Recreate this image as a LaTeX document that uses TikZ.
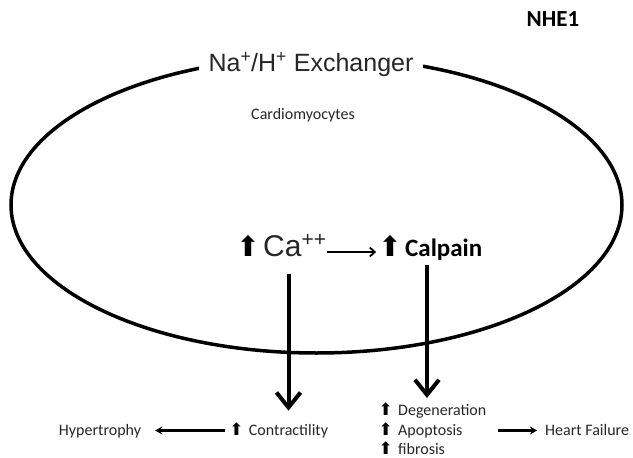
\documentclass[tikz,border=0pt]{standalone}
\usepackage{fontspec}
\setmainfont{Carlito}
\newfontfamily\arialf{Liberation Sans}
\newfontfamily\dejaf{DejaVu Sans}
\usetikzlibrary{arrows.meta,shapes.geometric}
\begin{document}
\begin{tikzpicture}[x=1pt,y=-1pt,
  lbl/.style={inner sep=0pt, text=black!85, font=\fontsize{16}{18}\selectfont},
  upsmall/.style={inner sep=0pt, font=\dejaf\fontsize{17}{19}\selectfont},
  upbig/.style={inner sep=0pt, font=\dejaf\fontsize{28}{30}\selectfont},
  thinarr/.style={line width=2.2pt, -{Stealth[length=7pt,width=8pt]}},
  bigarr/.style={line width=4pt, -{Straight Barb[length=15pt,width=24pt]}},
]
\useasboundingbox (0,0) rectangle (633,458);
\node[ellipse, draw, line width=3.5pt, minimum width=611pt, minimum height=296pt, inner sep=0pt] (cell) at (316.5,205) {};
\node[fill=white, inner xsep=10pt, inner ysep=2pt, text=black!85, font=\arialf\fontsize{25}{28}\selectfont] (nhe) at (311,65) {Na\textsuperscript{+}/H\textsuperscript{+} Exchanger};
\node[inner sep=0pt, font=\bfseries\fontsize{23}{26}\selectfont] (title) at (553,19) {NHE1};
\node[lbl] (cardio) at (303,115) {Cardiomyocytes};
% Ca and Calpain
\node[anchor=base west, inner sep=0pt, text=black!85, font=\arialf\fontsize{30}{32}\selectfont] (ca) at (263,256) {Ca\textsuperscript{++}};
\node[upbig, anchor=base east] (upca) at (260,256) {⬆};
\node[anchor=base west, inner sep=0pt, font=\bfseries\fontsize{25}{27}\selectfont] (calp) at (405,256) {Calpain};
\node[upbig, anchor=base east] (upcp) at (402,256) {⬆};
\draw[line width=1.8pt, -{Straight Barb[length=5pt,width=9pt]}, shorten >=2pt] ([yshift=4pt]ca.base east) -- ([yshift=4pt]upcp.base west);
% bottom row
\node[lbl, anchor=base] (contr) at (288.5,435) {Contractility};
\node[upsmall, anchor=base east] (upc) at ([xshift=-5pt]contr.base west) {⬆};
\node[lbl, anchor=base] (hyp) at (100,435) {Hypertrophy};
\draw[thinarr, shorten <=4pt, shorten >=14pt] ([yshift=4.5pt]upc.base west) -- ([yshift=4.5pt]hyp.base east);
\node[lbl, anchor=base west] (deg) at (398,415) {Degeneration};
\node[lbl, anchor=base west] (apo) at (398,435) {Apoptosis};
\node[lbl, anchor=base west] (fib) at (398,454) {fibrosis};
\node[upsmall, anchor=base east] (upd) at ([xshift=-5pt]deg.base west) {⬆};
\node[upsmall, anchor=base east] (upa) at ([xshift=-5pt]apo.base west) {⬆};
\node[upsmall, anchor=base east] (upf) at ([xshift=-5pt]fib.base west) {⬆};
\node[lbl, anchor=base west] (hf) at (545,435) {Heart Failure};
\draw[thinarr, shorten <=12pt, shorten >=8pt] ([yshift=4.5pt]apo.base east -| deg.east) -- ([yshift=4.5pt]hf.base west);
% vertical arrows
\draw[bigarr, shorten <=18pt, shorten >=13pt] (contr.north |- ca.south) -- (contr.north);
\coordinate (cpt) at (427,265);
\coordinate (cpb) at (427,398);
\draw[bigarr] (cpt) -- (cpb);
\end{tikzpicture}
\end{document}
